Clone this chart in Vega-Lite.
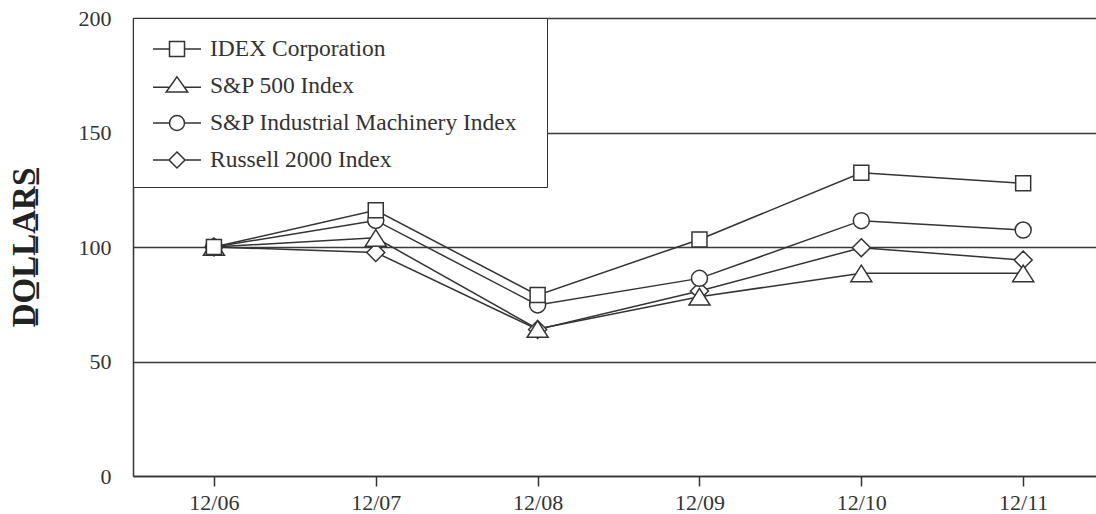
{
  "$schema": "https://vega.github.io/schema/vega-lite/v6.json",
  "autosize": "none",
  "width": 963,
  "height": 458,
  "padding": {"left": 133, "top": 18, "right": 0, "bottom": 38},
  "background": "white",
  "config": {
    "view": {"stroke": null},
    "font": "Liberation Serif"
  },
  "data": {
    "values": [
      {"year": 2006, "series": "Russell 2000 Index", "value": 100},
      {"year": 2007, "series": "Russell 2000 Index", "value": 97.6},
      {"year": 2008, "series": "Russell 2000 Index", "value": 64},
      {"year": 2009, "series": "Russell 2000 Index", "value": 80.8},
      {"year": 2010, "series": "Russell 2000 Index", "value": 99.7},
      {"year": 2011, "series": "Russell 2000 Index", "value": 94.3},
      {"year": 2006, "series": "S&P 500 Index", "value": 100},
      {"year": 2007, "series": "S&P 500 Index", "value": 104},
      {"year": 2008, "series": "S&P 500 Index", "value": 64.2},
      {"year": 2009, "series": "S&P 500 Index", "value": 78.3},
      {"year": 2010, "series": "S&P 500 Index", "value": 88.5},
      {"year": 2011, "series": "S&P 500 Index", "value": 88.5},
      {"year": 2006, "series": "S&P Industrial Machinery Index", "value": 100},
      {"year": 2007, "series": "S&P Industrial Machinery Index", "value": 111.6},
      {"year": 2008, "series": "S&P Industrial Machinery Index", "value": 74.7},
      {"year": 2009, "series": "S&P Industrial Machinery Index", "value": 86.3},
      {"year": 2010, "series": "S&P Industrial Machinery Index", "value": 111.5},
      {"year": 2011, "series": "S&P Industrial Machinery Index", "value": 107.4},
      {"year": 2006, "series": "IDEX Corporation", "value": 100},
      {"year": 2007, "series": "IDEX Corporation", "value": 116},
      {"year": 2008, "series": "IDEX Corporation", "value": 79},
      {"year": 2009, "series": "IDEX Corporation", "value": 103.3},
      {"year": 2010, "series": "IDEX Corporation", "value": 132.4},
      {"year": 2011, "series": "IDEX Corporation", "value": 127.8}
    ]
  },
  "encoding": {
    "x": {
      "field": "year",
      "type": "quantitative",
      "scale": {"domain": [2005.5, 2011.45], "nice": false, "zero": false},
      "axis": {
        "title": null,
        "values": [2006, 2007, 2008, 2009, 2010, 2011],
        "labelExpr": "'12/' + substring(toString(datum.value), 2, 4)",
        "grid": false,
        "tickSize": 10,
        "tickWidth": 1.5,
        "tickColor": "#333",
        "domainColor": "#333",
        "domainWidth": 1.5,
        "labelFont": "Liberation Serif",
        "labelFontSize": 22,
        "labelColor": "#333",
        "labelPadding": 6,
        "labelFlush": false
      }
    },
    "y": {
      "field": "value",
      "type": "quantitative",
      "scale": {"domain": [0, 200], "nice": false},
      "axis": {
        "title": "D̲O̲L̲L̲A̲R̲S̲",
        "titleFont": "Liberation Serif",
        "titleFontSize": 33,
        "titleFontWeight": "bold",
        "titleColor": "#222",
        "titlePadding": 37,
        "values": [0, 50, 100, 150, 200],
        "grid": true,
        "gridColor": "#3a3a3a",
        "gridWidth": 1.5,
        "ticks": false,
        "domainColor": "#333",
        "domainWidth": 1.5,
        "labelFont": "Liberation Serif",
        "labelFontSize": 22,
        "labelColor": "#333",
        "labelPadding": 22
      }
    }
  },
  "layer": [
    {
      "mark": {"type": "line", "color": "#333", "strokeWidth": 1.5},
      "encoding": {"detail": {"field": "series"}}
    },
    {
      "mark": {"type": "point", "filled": false, "fill": "white", "fillOpacity": 1, "stroke": "#333", "strokeWidth": 1.5, "opacity": 1, "size": 400},
      "encoding": {
        "shape": {
          "field": "series",
          "type": "nominal",
          "sort": null,
          "scale": {
            "domain": ["IDEX Corporation", "S&P 500 Index", "S&P Industrial Machinery Index", "Russell 2000 Index"],
            "range": [
              "M-0.75,-0.75H0.75V0.75H-0.75Z",
              "M0,-0.83L1.05,0.83L-1.05,0.83Z",
              "M0.8,0A0.8,0.8,0,1,1,-0.8,0A0.8,0.8,0,1,1,0.8,0Z",
              "M0,-0.9L0.9,0L0,0.9L-0.9,0Z"
            ]
          },
          "legend": null
        }
      }
    },
    {
      "transform": [{"filter": "datum.value < 0"}],
      "mark": {"type": "point", "filled": false, "fill": "white", "stroke": "#333", "strokeWidth": 1.5, "opacity": 1},
      "encoding": {
        "shape": {
          "field": "series",
          "type": "nominal",
          "scale": {
            "domain": ["IDEX Corporation", "S&P 500 Index", "S&P Industrial Machinery Index", "Russell 2000 Index"],
            "range": [
              "M-1,0H-0.3125M0.3125,0H1M-0.3125,-0.3125H0.3125V0.3125H-0.3125Z",
              "M-1,0.05H-0.31M0.31,0.05H1M0,-0.38L0.45,0.25L-0.45,0.25Z",
              "M-1,0H-0.3125M0.3125,0H1M0.3125,0A0.3125,0.3125,0,1,1,-0.3125,0A0.3125,0.3125,0,1,1,0.3125,0Z",
              "M-1,0H-0.333M0.333,0H1M0,-0.333L0.333,0L0,0.333L-0.333,0Z"
            ]
          },
          "legend": {
            "title": [" ", " ", " ", " ", " "],
            "titleOrient": "right",
            "titlePadding": 24,
            "titleFontSize": 8,
            "titleLineHeight": 39.5,
            "orient": "top-left",
            "offset": 0,
            "padding": 6,
            "fillColor": "white",
            "strokeColor": "#333",
            "symbolSize": 2304,
            "symbolStrokeWidth": 1.5,
            "symbolOffset": 13,
            "labelOffset": 8,
            "rowPadding": -21,
            "labelFont": "Liberation Serif",
            "labelFontSize": 23.5,
            "labelColor": "#333",
            "labelLimit": 500
          }
        }
      }
    }
  ],
  "resolve": {"scale": {"shape": "independent"}}
}
